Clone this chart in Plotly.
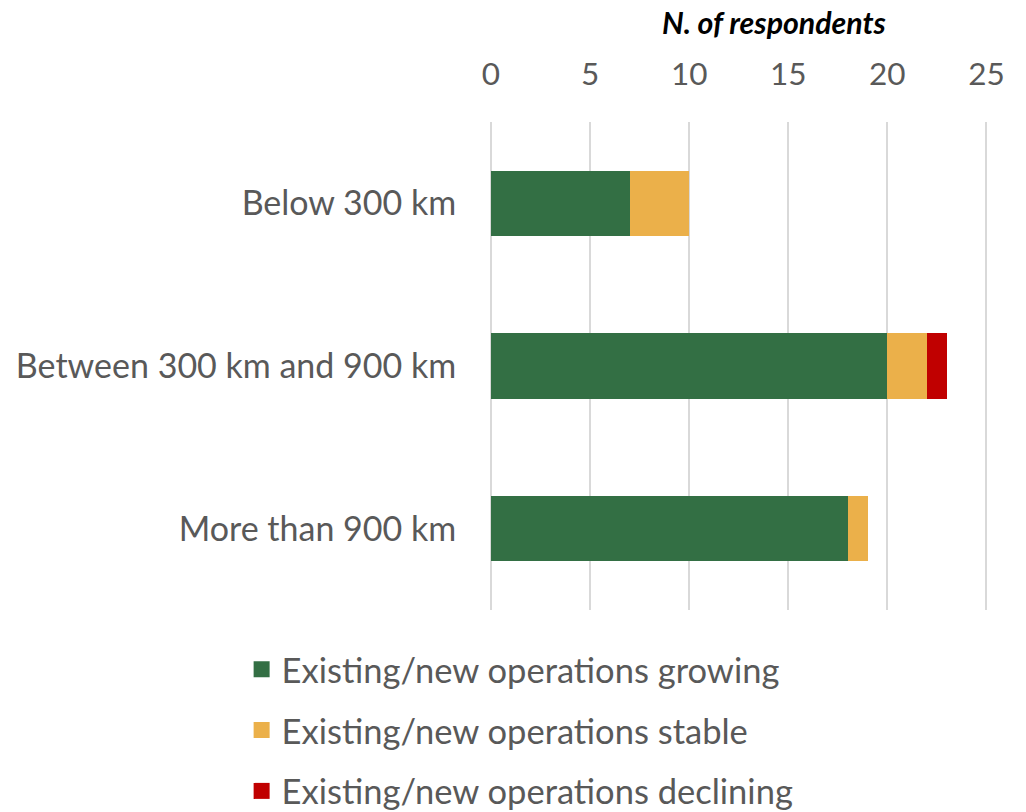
import plotly.graph_objects as go

# Survey results: operations outlook by distance band
categories = ["Below 300 km", "Between 300 km and 900 km", "More than 900 km"]
growing = [7, 20, 18]
stable = [3, 2, 1]
declining = [0, 1, 0]

series_names = [
    "Existing/new operations growing",
    "Existing/new operations stable",
    "Existing/new operations declining",
]
series_values = [growing, stable, declining]
colors = ["#336F44", "#EBB04A", "#C00000"]

x_ticks = [0, 5, 10, 15, 20, 25]

FONT = "Lato"
GREY = "#595959"
GRID = "#D9D9D9"

fig = go.Figure()

for name, vals, col in zip(series_names, series_values, colors):
    fig.add_trace(go.Bar(
        y=categories, x=vals, orientation="h", name=name,
        marker=dict(color=col, line=dict(width=0)),
        width=0.4, showlegend=False, hoverinfo="x+y+name",
    ))

# legend swatches: square markers on a hidden helper axis, clipped out of view,
# so the swatches can be larger than the default bar swatches
for i, (name, col) in enumerate(zip(series_names, colors)):
    fig.add_trace(go.Scatter(
        x=[-10], y=[-10], mode="markers", name=name,
        marker=dict(symbol="square", size=20, color=col),
        legendgroup=f"g{i}", showlegend=True, hoverinfo="skip",
        xaxis="x2", yaxis="y2", cliponaxis=True,
    ))

fig.update_layout(
    barmode="stack",
    width=1026, height=812,
    margin=dict(l=491, r=38, t=122, b=202, autoexpand=False),
    paper_bgcolor="white", plot_bgcolor="white",
    font=dict(family=FONT, color=GREY),
    xaxis=dict(
        side="top", range=[0, 25.08], tickvals=x_ticks,
        showgrid=True, gridcolor=GRID, gridwidth=1.5,
        zeroline=True, zerolinecolor=GRID, zerolinewidth=1.5,
        showline=False, automargin=False,
        ticks="outside", ticklen=23, tickcolor="rgba(0,0,0,0)",
        tickfont=dict(size=31.5, family=FONT, color=GREY),
        fixedrange=True,
    ),
    yaxis=dict(
        autorange="reversed", showgrid=False, zeroline=False, showline=False,
        automargin=False,
        ticks="outside", ticklen=27, tickcolor="rgba(0,0,0,0)",
        tickfont=dict(size=34, family=FONT, color=GREY),
        fixedrange=True,
    ),
    xaxis2=dict(range=[0, 1], visible=False, overlaying="x", fixedrange=True),
    yaxis2=dict(range=[0, 1], visible=False, overlaying="y", fixedrange=True),
    legend=dict(
        orientation="v", xref="container", yref="container",
        x=0.2355, y=0.2115, xanchor="left", yanchor="top",
        font=dict(size=34.5, family=FONT, color=GREY),
        tracegroupgap=13, traceorder="grouped",
        itemclick=False, itemdoubleclick=False,
    ),
    annotations=[dict(
        text="<b><i>N. of respondents</i></b>",
        xref="paper", yref="paper", x=0.799, y=1.0, yshift=100,
        xanchor="right", yanchor="middle", showarrow=False,
        font=dict(size=30.3, family=FONT, color="#000000"),
    )],
)

fig.write_html("out.html")
